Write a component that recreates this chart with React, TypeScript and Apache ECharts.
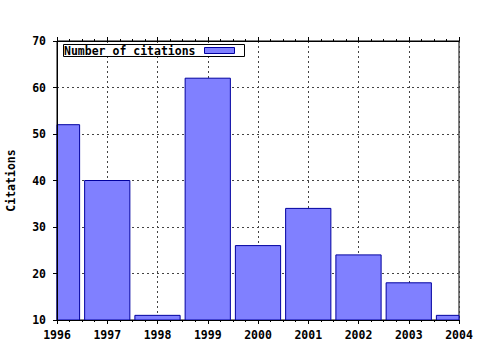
import React, { useEffect, useRef } from "react";
import * as echarts from "echarts";

const years: number[] = [1996, 1997, 1998, 1999, 2000, 2001, 2002, 2003, 2004];
const citations: number[] = [52, 40, 11, 62, 26, 34, 24, 18, 11];
const seriesName = "Number of citations";
const yAxisName = "Citations";
const X_MIN = 1996;
const X_MAX = 2004;
const Y_MIN = 10;
const Y_MAX = 70;
const Y_STEP = 10;
const BAR_WIDTH = 0.9;

const FONT = "DejaVu Sans Mono";
const FILL = "#8080ff";
const STROKE = "#0000a0";

export default function App() {
  const ref = useRef<HTMLDivElement>(null);
  useEffect(() => {
    if (!ref.current) return;
    const chart = echarts.init(ref.current, null, { renderer: "svg" });
    const textStyle = { fontFamily: FONT, fontWeight: "bold" as const, fontSize: 11.5, color: "#000" };
    const gridLine = { show: true, lineStyle: { color: "#444", width: 1, type: [2, 3] as any } };
    chart.setOption({
      animation: false,
      backgroundColor: "#fff",
      grid: {
        left: 57, right: 21, top: 41, bottom: 30,
        containLabel: false, outerBoundsMode: "none",
        show: true, borderColor: "#000", borderWidth: 1, backgroundColor: "transparent",
      },
      xAxis: [
        {
          type: "value", position: "bottom", min: X_MIN, max: X_MAX, interval: 1, z: 3,
          axisLine: { show: true, lineStyle: { color: "#000", width: 1 } },
          axisTick: { show: true, inside: false, length: 4, lineStyle: { color: "#000" } },
          minorTick: { show: true, splitNumber: 4, length: 2, lineStyle: { color: "#000" } },
          axisLabel: { ...textStyle, margin: 9, formatter: (v: number) => String(v) },
          splitLine: { show: false },
        },
        {
          type: "value", position: "top", min: X_MIN, max: X_MAX, interval: 1, z: 3,
          axisLine: { show: true, lineStyle: { color: "#000", width: 1 } },
          axisTick: { show: true, inside: false, length: 4, lineStyle: { color: "#000" } },
          minorTick: { show: true, splitNumber: 4, length: 2, lineStyle: { color: "#000" } },
          axisLabel: { show: false },
          splitLine: { show: false },
        },
        {
          type: "value", position: "bottom", min: X_MIN, max: X_MAX, interval: 1, z: 0,
          axisLine: { show: false }, axisTick: { show: false }, axisLabel: { show: false },
          splitLine: gridLine,
        },
      ],
      yAxis: [
        {
          type: "value", position: "left", min: Y_MIN, max: Y_MAX, interval: Y_STEP, z: 3,
          name: yAxisName, nameLocation: "middle", nameGap: 40, nameRotate: 90,
          nameTextStyle: textStyle,
          axisLine: { show: true, lineStyle: { color: "#000", width: 1 } },
          axisTick: { show: true, inside: false, length: 4, lineStyle: { color: "#000" } },
          axisLabel: { ...textStyle, margin: 11 },
          splitLine: { show: false },
        },
        {
          type: "value", position: "left", min: Y_MIN, max: Y_MAX, interval: Y_STEP, z: 0,
          axisLine: { show: false }, axisTick: { show: false }, axisLabel: { show: false },
          splitLine: gridLine,
        },
      ],
      series: [
        {
          type: "custom",
          name: seriesName,
          xAxisIndex: 0,
          yAxisIndex: 0,
          z: 2,
          data: years.map((y, i) => [y, citations[i]]),
          renderItem: (params: any, api: any) => {
            const x = api.value(0);
            const v = api.value(1);
            const p1 = api.coord([x - BAR_WIDTH / 2, v]);
            const p2 = api.coord([x + BAR_WIDTH / 2, Y_MIN]);
            const cs = params.coordSys;
            const rect = echarts.graphic.clipRectByRect(
              { x: p1[0], y: p1[1], width: p2[0] - p1[0], height: p2[1] - p1[1] },
              { x: cs.x, y: cs.y, width: cs.width, height: cs.height }
            );
            if (!rect) return null;
            return {
              type: "rect",
              shape: rect,
              style: { fill: FILL, stroke: STROKE, lineWidth: 1 },
            };
          },
        },
      ],
      graphic: [
        {
          type: "rect", z: 10,
          shape: { x: 63.5, y: 44.5, width: 181, height: 12 },
          style: { fill: "#fff", stroke: "#000", lineWidth: 1 },
        },
        {
          type: "text", z: 11, x: 64, y: 51,
          style: { text: seriesName, font: `bold 11.5px "${FONT}"`, fill: "#000", verticalAlign: "middle", align: "left" },
        },
        {
          type: "rect", z: 11,
          shape: { x: 204.5, y: 47.5, width: 30, height: 6 },
          style: { fill: FILL, stroke: STROKE, lineWidth: 1 },
        },
      ],
    });
    return () => chart.dispose();
  }, []);
  return <div ref={ref} style={{ position: "fixed", left: 0, top: 0, width: 480, height: 350 }} />;
}
